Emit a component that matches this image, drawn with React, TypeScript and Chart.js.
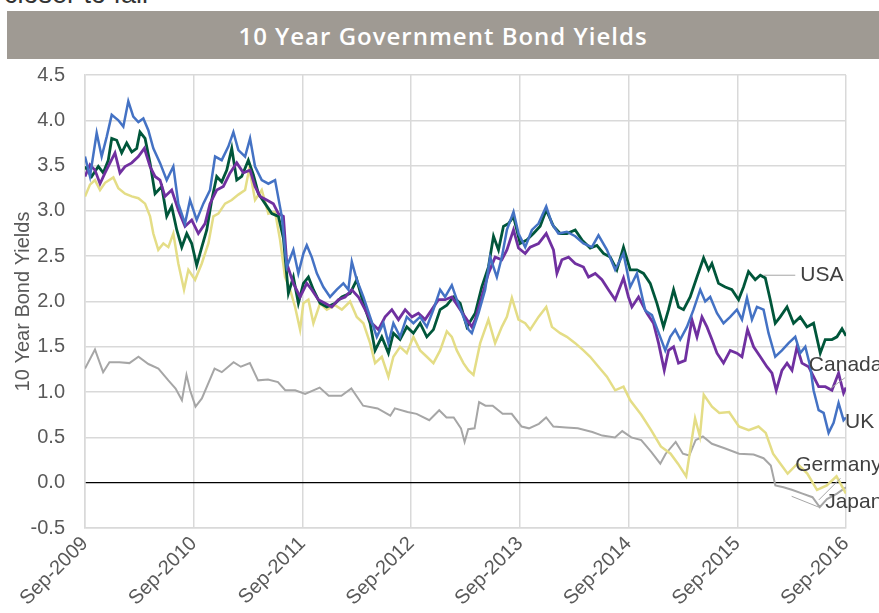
import { useEffect, useRef } from 'react';
import { Chart, registerables } from 'chart.js';

Chart.register(...registerables);

// x = months since Sep-2009, y = 10 year yield (%)
const xTickLabels = ['Sep-2009', 'Sep-2010', 'Sep-2011', 'Sep-2012', 'Sep-2013', 'Sep-2014', 'Sep-2015', 'Sep-2016'];

const uk: [number, number][] = [[0,3.60],[0.55,3.38],[1.29,3.86],[1.84,3.60],[2.40,3.82],[2.95,4.06],[3.68,4.00],[4.23,3.93],[4.78,4.21],[5.33,4.04],[5.89,3.98],[6.44,4.02],[6.99,3.89],[7.54,3.69],[8.28,3.53],[9.02,3.34],[9.75,3.49],[10.30,3.08],[11.04,2.86],[11.59,3.12],[12.33,2.90],[13.06,3.08],[13.80,3.23],[14.36,3.60],[15.09,3.56],[15.82,3.71],[16.38,3.87],[16.93,3.67],[17.67,3.60],[18.22,3.80],[18.77,3.49],[19.51,3.34],[20.24,3.30],[20.98,3.34],[21.72,2.94],[22.27,2.38],[23.00,2.57],[23.55,2.31],[24.11,2.53],[24.48,2.62],[25.03,2.49],[25.59,2.31],[26.31,2.16],[27.05,2.05],[27.79,2.13],[28.52,2.20],[29.07,2.13],[29.45,2.44],[30.00,2.24],[30.73,2.05],[31.47,1.83],[32.21,1.61],[32.94,1.76],[33.49,1.54],[34.04,1.76],[34.78,1.61],[35.52,1.83],[36.25,1.76],[36.99,1.83],[37.73,1.72],[38.46,1.91],[39.20,2.13],[39.75,2.05],[40.49,2.18],[41.04,2.02],[41.77,1.83],[42.33,1.69],[42.70,1.65],[43.43,1.87],[44.17,2.13],[44.72,2.49],[45.46,2.27],[46.01,2.49],[46.57,2.79],[47.30,2.99],[47.85,2.75],[48.59,2.60],[49.33,2.79],[50.06,2.86],[50.91,3.05],[51.54,2.86],[52.26,2.75],[53.19,2.77],[54.11,2.72],[55.02,2.64],[55.95,2.60],[56.68,2.73],[57.61,2.57],[58.52,2.35],[59.44,2.53],[60.18,2.16],[60.92,2.31],[61.84,1.90],[62.58,1.85],[63.49,1.61],[64.05,1.46],[64.60,1.61],[65.15,1.69],[65.70,1.58],[66.44,1.72],[67.17,1.91],[67.91,2.13],[68.46,2.00],[69.01,2.05],[69.76,1.87],[70.48,1.76],[71.22,1.83],[71.96,1.91],[72.52,1.80],[73.07,2.04],[73.62,1.80],[74.17,1.94],[74.90,1.91],[75.45,1.65],[76.19,1.39],[76.93,1.46],[77.66,1.54],[78.40,1.61],[78.95,1.43],[79.51,1.50],[80.06,1.28],[80.42,1.02],[80.98,0.80],[81.53,0.77],[82.08,0.55],[82.63,0.66],[83.18,0.88],[83.73,0.69],[84.0,0.72]];

const canada: [number, number][] = [[0,3.38],[0.55,3.51],[1.10,3.45],[1.66,3.30],[2.21,3.42],[2.76,3.53],[3.31,3.64],[3.86,3.42],[4.42,3.49],[5.16,3.53],[5.89,3.60],[6.55,3.69],[7.18,3.49],[7.73,3.38],[8.28,3.34],[8.83,3.16],[9.57,3.23],[10.30,3.01],[11.04,2.83],[11.78,2.90],[12.51,2.75],[13.25,2.86],[13.80,3.08],[14.54,3.23],[15.27,3.27],[16.01,3.42],[16.75,3.53],[17.48,3.42],[18.22,3.45],[18.77,3.27],[19.32,3.16],[20.06,3.12],[20.79,3.08],[21.35,2.97],[21.90,2.94],[22.27,2.42],[23.00,2.20],[23.74,2.05],[24.48,2.20],[25.03,2.13],[25.76,2.02],[26.50,1.98],[27.24,1.94],[27.97,2.02],[28.71,2.05],[29.45,2.13],[30.18,2.05],[30.92,1.91],[31.66,1.76],[32.39,1.69],[33.13,1.83],[33.87,1.91],[34.60,1.80],[35.34,1.91],[36.08,1.83],[36.80,1.87],[37.54,1.80],[38.28,1.91],[39.01,2.02],[39.75,2.02],[40.49,2.05],[41.22,1.94],[42.15,1.80],[42.70,1.72],[43.07,1.80],[43.80,2.05],[44.53,2.31],[45.27,2.49],[46.01,2.46],[46.57,2.57],[47.30,2.79],[47.85,2.59],[48.59,2.53],[49.14,2.60],[50.06,2.64],[50.91,2.75],[51.71,2.57],[52.09,2.31],[52.64,2.46],[53.37,2.49],[54.11,2.42],[55.02,2.38],[55.58,2.27],[56.32,2.31],[57.06,2.24],[57.78,2.13],[58.52,2.02],[59.44,2.26],[59.99,2.05],[60.37,1.94],[61.10,2.05],[62.03,1.87],[62.75,1.76],[63.31,1.54],[63.94,1.24],[64.41,1.46],[64.97,1.50],[65.51,1.32],[66.25,1.35],[66.99,1.80],[67.55,1.61],[68.10,1.83],[68.65,1.72],[69.20,1.58],[69.76,1.43],[70.48,1.32],[71.22,1.46],[71.96,1.43],[72.52,1.39],[73.13,1.69],[73.80,1.50],[74.54,1.39],[75.27,1.28],[75.83,1.21],[76.30,1.02],[76.93,1.24],[77.49,1.32],[78.04,1.24],[78.59,1.50],[79.14,1.32],[79.87,1.28],[80.42,1.17],[80.98,1.06],[81.71,1.06],[82.45,1.02],[83.18,1.21],[83.73,0.99],[84.0,1.05]];

const usa: [number, number][] = [[0,3.49],[0.74,3.38],[1.47,3.49],[2.02,3.42],[2.57,3.56],[2.95,3.80],[3.50,3.78],[4.05,3.64],[4.60,3.75],[5.16,3.65],[5.71,3.69],[6.07,3.87],[6.63,3.80],[7.18,3.53],[7.73,3.19],[8.47,3.27],[9.02,2.94],[9.57,3.05],[10.13,2.79],[10.68,2.60],[11.23,2.75],[11.78,2.64],[12.33,2.40],[12.89,2.60],[13.44,2.79],[13.99,3.12],[14.54,3.38],[15.09,3.32],[15.65,3.45],[16.20,3.69],[16.75,3.34],[17.30,3.38],[18.03,3.56],[18.58,3.40],[19.14,3.19],[19.88,3.08],[20.62,2.97],[21.35,2.94],[21.90,2.70],[22.45,2.09],[23.00,2.27],[23.55,1.98],[24.11,2.20],[24.66,2.27],[25.21,2.13],[25.95,1.98],[26.69,1.94],[27.61,1.98],[28.35,2.05],[29.26,2.09],[30.00,2.24],[30.73,1.98],[31.47,1.76],[32.02,1.46],[32.76,1.61],[33.49,1.43],[34.04,1.65],[34.78,1.58],[35.52,1.72],[36.25,1.65],[36.99,1.76],[37.73,1.61],[38.46,1.69],[39.20,1.91],[39.94,1.96],[40.67,2.05],[41.41,1.98],[42.15,1.72],[43.07,1.87],[43.80,2.16],[44.53,2.38],[45.09,2.72],[45.64,2.57],[46.19,2.83],[46.75,2.86],[47.30,2.94],[48.03,2.64],[48.77,2.68],[49.50,2.75],[50.24,2.83],[50.91,3.01],[51.71,2.83],[52.45,2.75],[53.19,2.75],[54.11,2.79],[54.85,2.68],[55.76,2.59],[56.50,2.62],[57.23,2.53],[57.97,2.49],[58.71,2.35],[59.44,2.60],[60.18,2.35],[60.92,2.35],[61.65,2.31],[62.39,2.20],[63.13,1.98],[63.86,1.72],[64.41,1.91],[64.97,2.13],[65.51,1.94],[66.07,1.91],[66.80,2.05],[67.55,2.27],[68.28,2.48],[68.83,2.35],[69.20,2.42],[69.93,2.20],[70.67,2.16],[71.41,2.13],[72.14,2.02],[72.69,2.16],[73.24,2.33],[73.98,2.24],[74.54,2.29],[75.09,2.26],[75.64,2.02],[76.19,1.76],[76.74,1.83],[77.49,1.94],[78.21,1.76],[78.95,1.83],[79.69,1.72],[80.42,1.76],[81.16,1.43],[81.71,1.58],[82.45,1.58],[83.00,1.61],[83.56,1.70],[84.0,1.62]];

const germany: [number, number][] = [[0,3.16],[0.55,3.29],[1.1,3.34],[1.66,3.23],[2.21,3.31],[3.13,3.37],[3.68,3.25],[4.42,3.19],[5.16,3.16],[5.89,3.14],[6.63,3.08],[7.18,2.94],[7.54,2.75],[8.09,2.57],[8.65,2.64],[9.2,2.60],[9.75,2.75],[10.3,2.42],[10.93,2.13],[11.41,2.35],[12.15,2.24],[12.89,2.42],[13.62,2.64],[14.17,2.94],[14.72,2.97],[15.46,3.08],[16.2,3.12],[16.93,3.18],[17.67,3.23],[18.14,3.47],[18.77,3.12],[19.51,3.23],[20.24,2.97],[20.98,2.99],[21.53,2.68],[22.08,2.27],[22.64,2.13],[23.19,1.94],[23.74,1.69],[24.1,1.98],[24.66,2.02],[25.21,1.76],[25.95,1.98],[26.69,1.91],[27.6,1.96],[28.35,1.91],[29.26,2.00],[30.0,1.83],[30.73,1.76],[31.47,1.54],[32.02,1.32],[32.76,1.39],[33.49,1.17],[34.04,1.39],[34.78,1.50],[35.52,1.43],[36.25,1.61],[36.99,1.46],[37.73,1.39],[38.46,1.32],[39.2,1.46],[39.94,1.67],[40.49,1.61],[41.04,1.46],[41.77,1.32],[42.33,1.24],[42.88,1.19],[43.62,1.54],[44.53,1.80],[45.27,1.54],[46.01,1.72],[46.57,1.83],[47.12,2.04],[47.85,1.80],[48.59,1.76],[49.14,1.69],[50.06,1.83],[50.91,1.94],[51.54,1.72],[52.45,1.65],[53.19,1.61],[54.11,1.54],[55.02,1.46],[55.76,1.39],[56.68,1.28],[57.61,1.17],[58.52,1.02],[59.44,1.06],[60.18,0.91],[61.4,0.75],[62.49,0.58],[63.56,0.40],[64.64,0.32],[65.45,0.21],[66.36,0.07],[66.8,0.36],[67.34,0.71],[67.87,0.51],[68.3,0.97],[69.21,0.84],[70.02,0.77],[71.1,0.78],[72.18,0.62],[73.26,0.58],[74.34,0.62],[75.14,0.55],[75.95,0.32],[76.76,0.21],[77.56,0.10],[78.64,0.21],[79.73,0.10],[80.8,-0.08],[81.88,-0.03],[82.95,0.07],[84.0,-0.12]];

const japan: [number, number][] = [[0,1.26],[1.1,1.47],[2.0,1.22],[2.7,1.33],[3.8,1.33],[4.9,1.32],[5.9,1.39],[7.0,1.31],[8.1,1.26],[9.2,1.13],[10.0,1.04],[10.7,0.91],[11.2,1.19],[11.6,1.02],[12.2,0.84],[12.9,0.93],[14.3,1.26],[15.1,1.22],[16.4,1.33],[17.2,1.28],[18.2,1.32],[19.1,1.13],[20.2,1.14],[21.3,1.11],[22.1,1.02],[23.2,1.02],[24.3,0.98],[25.9,1.05],[26.9,0.96],[28.3,0.96],[29.4,1.04],[30.7,0.85],[32.3,0.82],[33.7,0.74],[34.2,0.82],[35.6,0.78],[36.6,0.76],[38.0,0.69],[39.1,0.80],[39.9,0.72],[40.7,0.72],[41.5,0.60],[41.9,0.45],[42.3,0.59],[43.0,0.60],[43.5,0.89],[44.2,0.85],[45.0,0.85],[46.1,0.76],[47.1,0.76],[48.2,0.62],[49.0,0.60],[50.1,0.65],[50.9,0.72],[51.7,0.62],[53.1,0.61],[54.4,0.60],[56.0,0.56],[57.1,0.52],[58.5,0.50],[59.3,0.57],[60.3,0.50],[61.4,0.47],[62.5,0.34],[63.5,0.21],[64.1,0.32],[65.2,0.45],[66.0,0.32],[66.7,0.30],[67.4,0.47],[68.2,0.51],[69.2,0.43],[70.6,0.38],[72.2,0.32],[73.8,0.31],[74.9,0.27],[75.7,0.19],[76.2,-0.03],[77.1,-0.05],[78.1,-0.08],[79.2,-0.12],[80.3,-0.16],[81.1,-0.27],[81.9,-0.18],[83.0,-0.12],[84.0,-0.05]];

const seriesNames = ['UK', 'Canada', 'USA', 'Germany', 'Japan'];
const seriesData = [uk, canada, usa, germany, japan];
const seriesColors = ['#4472C4', '#7030A0', '#00563A', '#E4DD86', '#A6A6A6'];
const seriesWidths = [2.5, 2.8, 2.8, 2.5, 2];

// data-label positions: [labelMonth, labelValue, leaderFromMonth, leaderFromValue, leaderToMonth, leaderToValue]
const labelPos: Record<string, number[]> = {
  USA: [78.95, 2.29, 74.9, 2.29, 78.4, 2.29],
  Canada: [79.9, 1.30, 82.3, 1.04, 83.9, 1.16],
  UK: [83.9, 0.67, NaN, NaN, NaN, NaN],
  Germany: [78.4, 0.195, 81.0, -0.19, 83.4, 0.05],
  Japan: [81.7, -0.22, 78.0, -0.15, 81.0, -0.27],
};

const FONT = '"Liberation Sans", Arial, Helvetica, sans-serif';

const labelPlugin = {
  id: 'seriesLabels',
  afterDraw(chart: any) {
    const { ctx, scales } = chart;
    const xs = scales.x;
    const ys = scales.y;
    ctx.save();
    ctx.font = `21px ${FONT}`;
    ctx.fillStyle = '#404040';
    ctx.textBaseline = 'middle';
    ctx.textAlign = 'left';
    ctx.strokeStyle = '#A6A6A6';
    ctx.lineWidth = 1;
    for (const name of ['USA', 'Canada', 'UK', 'Germany', 'Japan']) {
      const p = labelPos[name];
      if (!isNaN(p[2])) {
        ctx.beginPath();
        ctx.moveTo(xs.getPixelForValue(p[2]), ys.getPixelForValue(p[3]));
        ctx.lineTo(xs.getPixelForValue(p[4]), ys.getPixelForValue(p[5]));
        ctx.stroke();
      }
      ctx.fillText(name, xs.getPixelForValue(p[0]), ys.getPixelForValue(p[1]));
    }
    ctx.restore();
  },
};

export default function App() {
  const ref = useRef<HTMLCanvasElement>(null);

  useEffect(() => {
    if (!ref.current) return;
    const chart = new Chart(ref.current, {
      type: 'line',
      data: {
        datasets: seriesNames.map((name, i) => ({
          label: name,
          data: seriesData[i].map(([x, y]) => ({ x, y })),
          borderColor: seriesColors[i],
          backgroundColor: seriesColors[i],
          borderWidth: seriesWidths[i],
          pointRadius: 0,
          tension: 0,
          fill: false,
        })),
      },
      options: {
        animation: false,
        responsive: true,
        maintainAspectRatio: false,
        layout: { padding: { top: 15, right: 33, left: 0, bottom: 0 } },
        plugins: { legend: { display: false }, tooltip: { enabled: false } },
        scales: {
          x: {
            type: 'linear',
            min: 0,
            max: 84,
            afterFit: (s: any) => { s.height = 85; },
            ticks: {
              stepSize: 12,
              autoSkip: false,
              maxRotation: 45,
              minRotation: 45,
              padding: 4,
              color: '#595959',
              font: { size: 20, family: FONT },
              callback: (_v: any, i: number) => xTickLabels[i],
            },
            grid: { color: '#D9D9D9', lineWidth: 1.5, drawTicks: false },
            border: { color: '#D9D9D9', width: 1.5 },
          },
          y: {
            min: -0.5,
            max: 4.5,
            afterFit: (s: any) => { s.width = 85; },
            ticks: {
              stepSize: 0.5,
              padding: 3,
              color: '#595959',
              font: { size: 20, family: FONT },
              callback: (v: any) => Number(v).toFixed(1),
            },
            grid: {
              color: (c: any) => (c.tick && c.tick.value === 0 ? '#000000' : '#D9D9D9'),
              lineWidth: (c: any) => (c.tick && c.tick.value === 0 ? 1.2 : 1.5),
              drawTicks: true,
              tickLength: 17,
              tickColor: 'rgba(0,0,0,0)',
            },
            border: { color: '#D9D9D9', width: 1.5 },
            title: {
              display: true,
              text: '10 Year Bond Yields',
              color: '#595959',
              font: { size: 20, family: FONT },
              padding: { top: 11, bottom: 0 },
            },
          },
        },
      },
      plugins: [labelPlugin],
    } as any);
    return () => chart.destroy();
  }, []);

  return (
    <div style={{ position: 'absolute', left: 0, top: 0, width: 879, height: 613, overflow: 'hidden', background: '#ffffff', fontFamily: FONT }}>
      <div style={{ position: 'absolute', left: 4, top: -19, fontSize: 27, lineHeight: '27px', color: '#333333', whiteSpace: 'nowrap' }}>closer to fall</div>
      <div style={{ position: 'absolute', left: 7, top: 11, width: 872, height: 48, background: '#9F9A93', color: '#ffffff', display: 'flex', alignItems: 'center', justifyContent: 'center', fontFamily: '"Open Sans", Roboto, sans-serif', fontWeight: 600, fontSize: 24, letterSpacing: '1px' }}>10 Year Government Bond Yields</div>
      <div style={{ position: 'absolute', left: 0, top: 60, width: 879, height: 553 }}>
        <canvas ref={ref} />
      </div>
    </div>
  );
}
